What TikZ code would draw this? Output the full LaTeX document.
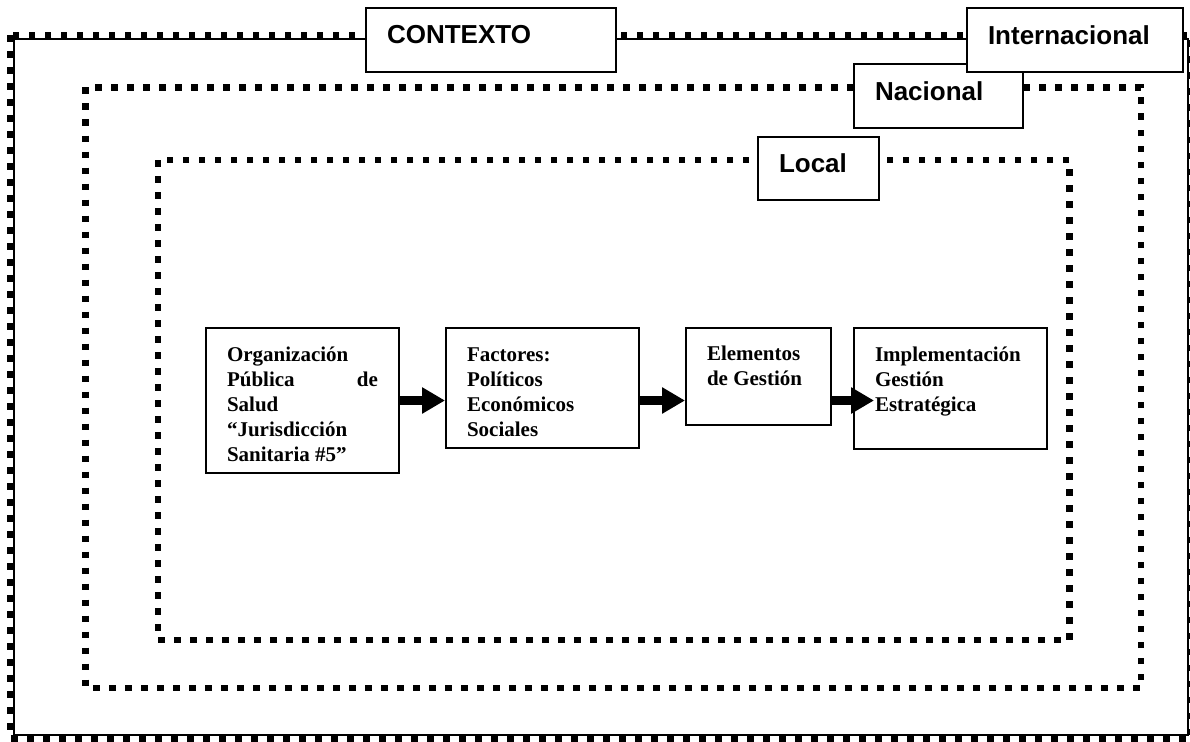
\documentclass[tikz,border=0pt]{standalone}
\usepackage{fontspec}
\setmainfont{Liberation Serif}
\newfontfamily\labelfont{Liberation Sans}
\usetikzlibrary{arrows.meta}

% text block of fixed height, top aligned, first baseline set by an invisible rule
\newcommand\celltext[4]{\parbox[c][#1][t]{#2}{\raggedright\rule{0pt}{#3}#4}}

\tikzset{
  frame/.style={line width=6.5pt, dash pattern=on 6.5pt off 9.5pt},
  rim/.style={line width=2pt},
  tag/.style={draw, line width=2pt, fill=white, anchor=north west,
    inner xsep=21pt, inner ysep=0pt,
    font=\labelfont\bfseries\fontsize{26}{30}\selectfont},
  stage/.style={draw, line width=2pt, anchor=north west,
    inner xsep=21pt, inner ysep=0pt,
    font=\bfseries\fontsize{21}{25}\selectfont},
  flow/.style={line width=9pt, -{Triangle[length=23pt,width=25pt]}},
}

\begin{document}
\begin{tikzpicture}[x=1pt,y=-1pt]
\useasboundingbox (0,0) rectangle (1190,741);

% outer context frame: thin line with square dots on the outside
\draw[frame] (10.25,35.25) rectangle (1191.5,738.5);
\draw[rim] (13.8,39.5) rectangle (1188,735.3);

% national and local frames
\draw[frame] (85.5,87.5) rectangle (1141,688);
\draw[frame] (158,160) rectangle (1069.5,640);

% frame labels
\node[tag] (contexto) at (365,7) {\celltext{64pt}{208pt}{36pt}{CONTEXTO}};
\node[tag] (nacional) at (853,63) {\celltext{64pt}{127pt}{37pt}{Nacional}};
\node[tag] (internacional) at (966,7) {\celltext{64pt}{174pt}{37pt}{Internacional}};
\node[tag] (local) at (757,136) {\celltext{63pt}{79pt}{36pt}{Local}};

% process stages
\node[stage] (b1) at (205,327) {\celltext{145pt}{151pt}{33pt}{Organización\\
  Pública\hfill de\\ Salud\\ “Jurisdicción\\ Sanitaria \#5”}};
\node[stage] (b2) at (445,327) {\celltext{120pt}{151pt}{33pt}{Factores:\\
  Políticos\\ Económicos\\ Sociales}};
\node[stage] (b3) at (685,327) {\celltext{97pt}{103pt}{32pt}{Elementos\\ de Gestión}};
\node[stage] (b4) at (853,327) {\celltext{121pt}{151pt}{33pt}{Implementación\\
  Gestión\\ Estratégica}};

\coordinate (t4) at ([xshift=21pt]b4.west |- b1.east);

% connectors
\draw[flow] (b1.east) -- (b2.west |- b1.east);
\draw[flow] (b2.east |- b1.east) -- (b3.west |- b1.east);
\draw[flow] (b3.east |- b1.east) -- (t4);
\end{tikzpicture}
\end{document}
